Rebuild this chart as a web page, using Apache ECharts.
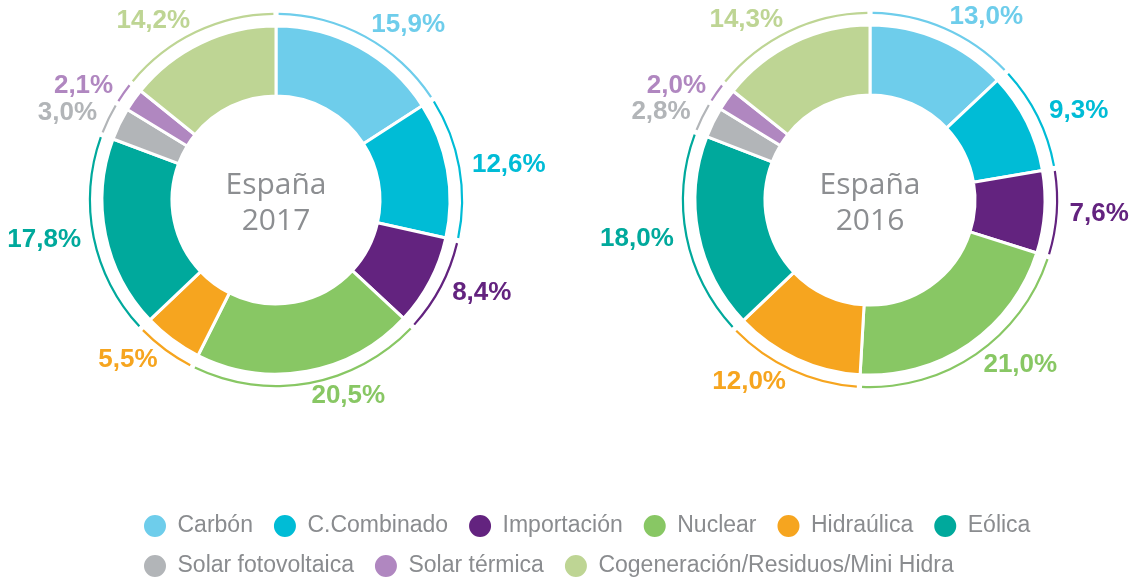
<!DOCTYPE html>
<html>
<head>
<meta charset="utf-8">
<script src="https://cdn.jsdelivr.net/npm/echarts@6/dist/echarts.min.js"></script>
<style>
html,body{margin:0;padding:0;background:#fff;}
#chart{width:1136px;height:583px;}
</style>
</head>
<body>
<div id="chart"></div>
<script>
const categories = ['Carbón','C.Combinado','Importación','Nuclear','Hidraúlica','Eólica','Solar fotovoltaica','Solar térmica','Cogeneración/Residuos/Mini Hidra'];
const colors = ['#6ECDEB','#00BCD6','#63237F','#88C764','#F6A51F','#00A99C','#B2B5B8','#B087C0','#BED594'];
const values2017 = [15.9,12.6,8.4,20.5,5.5,17.8,3.0,2.1,14.2];
const values2016 = [13.0,9.3,7.6,21.0,12.0,18.0,2.8,2.0,14.3];
const titles = ['España\n2017','España\n2016'];

const chart = echarts.init(document.getElementById('chart'));

function mkData(vals){
  return vals.map((v,i)=>({name:categories[i], value:v, itemStyle:{color:colors[i]}}));
}
function fmt(p){ return p.value.toFixed(1).replace('.', ',') + '%'; }

function pieSeries(vals, center, inner, outer){
  return [{
    type:'pie',
    center:center,
    radius:[inner, outer],
    startAngle:90,
    clockwise:true,
    avoidLabelOverlap:false,
    data:mkData(vals),
    itemStyle:{borderColor:'#ffffff', borderWidth:3},
    label:{show:true, position:'outside', formatter:fmt, color:'inherit', distanceToLabelLine:0,
      fontFamily:'Liberation Sans, Arial, sans-serif', fontWeight:'bold', fontSize:26},
    labelLine:{show:false, length:25, length2:0},
    emphasis:{disabled:true},
    silent:true
  },{
    type:'pie',
    center:center,
    radius:[outer+11, outer+13.2],
    startAngle:90,
    clockwise:true,
    padAngle:1.6,
    data:mkData(vals),
    label:{show:false},
    labelLine:{show:false},
    emphasis:{disabled:true},
    silent:true
  }];
}

const legendText = {color:'#8a8c8f', fontSize:23, fontFamily:'Liberation Sans, Arial, sans-serif', padding:[0,0,0,5]};

chart.setOption({
  animation:false,
  legend:[{
    data:categories.slice(0,6),
    left:137, top:508, icon:'circle', itemWidth:25, itemHeight:24, itemGap:19,
    textStyle:legendText, selectedMode:false
  },{
    data:categories.slice(6),
    left:137, top:548, icon:'circle', itemWidth:25, itemHeight:24, itemGap:19,
    textStyle:legendText, selectedMode:false
  }],
  graphic:[
    {type:'text', x:276, y:203, style:{text:titles[0], textAlign:'center', textVerticalAlign:'middle',
      fill:'#8c8e91', font:'30px "Open Sans", sans-serif', lineHeight:36}},
    {type:'text', x:870, y:203, style:{text:titles[1], textAlign:'center', textVerticalAlign:'middle',
      fill:'#8c8e91', font:'30px "Open Sans", sans-serif', lineHeight:36}}
  ],
  series:[].concat(
    pieSeries(values2017, [276,200], 104, 174),
    pieSeries(values2016, [870,200], 105, 175)
  )
});
</script>
</body>
</html>
